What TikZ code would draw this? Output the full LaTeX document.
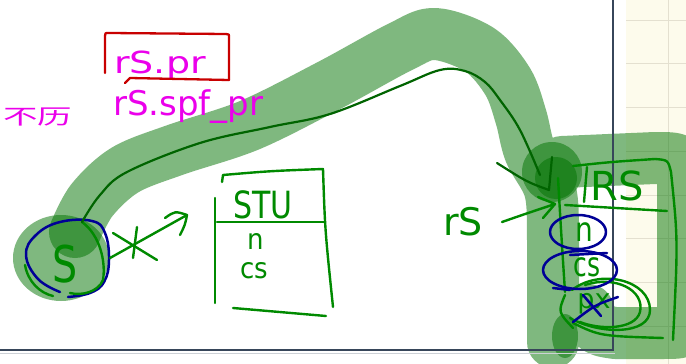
\documentclass[tikz,border=0pt]{standalone}
\usepackage{fontspec}
\setmainfont{DejaVu Sans}
\newfontfamily\cjk{Noto Sans CJK SC}
\usetikzlibrary{arrows.meta}

\definecolor{pengreen}{RGB}{0,138,0}
\definecolor{pendeep}{RGB}{0,100,0}
\definecolor{hlgreen}{RGB}{0,115,0}
\definecolor{inkblue}{RGB}{0,0,150}
\definecolor{magink}{RGB}{235,0,235}
\definecolor{boxred}{RGB}{200,0,0}
\definecolor{cream}{RGB}{253,251,236}
\definecolor{gridcol}{RGB}{228,224,208}
\definecolor{framecol}{RGB}{55,70,90}

\tikzset{
  hlstroke/.style={draw=hlgreen, draw opacity=0.5, line width=52pt, line cap=round, line join=round},
  hldot/.style={fill=hlgreen, fill opacity=0.5},
  penstroke/.style={draw=pengreen, line width=2.4pt, line cap=round, line join=round},
  deepstroke/.style={draw=pendeep, line width=2.2pt, line cap=round, line join=round},
  inkstroke/.style={draw=inkblue, line width=2.5pt, line cap=round, line join=round},
  redstroke/.style={draw=boxred, line width=2.3pt, line cap=round, line join=round},
  hand/.style={text=pengreen, inner sep=0pt},
  magtext/.style={text=magink, inner sep=0pt},
  gridline/.style={draw=gridcol, line width=1pt}
}

\begin{document}
\begin{tikzpicture}[x=1pt,y=-1pt]
\useasboundingbox (0,0) rectangle (686,364);

% paper: white page and the squared margin on the right
\fill[white] (0,0) rectangle (686,364);
\fill[cream] (626,0) rectangle (686,364);
\foreach \gy in {20,63.5,107,151,195,238.5,282,326}
  \draw[gridline] (626,\gy) -- (686,\gy);
\draw[gridline] (668,0) -- (668,364);

% highlighter marks
\fill[hldot] (61,258) ellipse [x radius=48pt, y radius=43pt];
\draw[hlstroke]
  plot[smooth, tension=0.55] coordinates {(75,232) (92,200) (125,170) (175,150) (250,125) (330,85) (400,47) (435,34) (480,50) (508,82) (521,117) (530,152) (550,190) (553,240) (553,342)}
  (562,162) -- (655,158) .. controls (683,158) .. (683,185) -- (683,325)
  .. controls (683,333) .. (660,333) -- (615,333) .. controls (595,330) .. (588,310);
\fill[hldot] (552,172) circle [radius=30pt];
\fill[hldot] (556,178) circle [radius=21pt];
\fill[hldot] (565,336) ellipse [x radius=13pt, y radius=22pt];

% page edge
\draw[framecol, line width=1.8pt] (0,350) -- (613,350) -- (613,0);
\draw[framecol!25, line width=1.2pt] (0,353.5) -- (614.5,353.5);

% magenta notes
\node[magtext, anchor=base west, font=\fontsize{38}{38}\selectfont] (prA) at (114,73) {\scalebox{1}[0.8]{rS.pr}};
\node[magtext, anchor=base west, font=\fontsize{34}{34}\selectfont] (prB) at (113,115) {rS.spf\_pr};
\node[magtext, font=\cjk\fontsize{30}{30}\selectfont] (note) at (38,117) {\scalebox{1.15}[0.7]{不历}};
\draw[redstroke] (105,73) -- (105,36) .. controls (105,33) .. (109,33) -- (226,34)
  .. controls (229,34) .. (229,38) -- (229,80);
\draw[redstroke] (125,83) -- (130,78) -- (229,80);

% S entity
\node[hand, font=\fontsize{44}{44}\selectfont] (sNode) at (65,264) {\scalebox{0.9}[1.15]{S}};
\draw[inkstroke] plot[smooth, tension=0.7] coordinates {(60,292) (38,279) (26,255) (36,235) (60,222) (92,221) (105,233) (109,260) (104,282) (90,293) (68,297)};
\coordinate (sTail) at (82,222);
\draw[penstroke] (sTail) .. controls (100,235) and (106,262) .. (103,280)
  .. controls (98,292) and (82,296) .. (70,293);
\draw[penstroke] (25,265) .. controls (28,282) and (40,293) .. (53,296);

% crossed-out link S -> STU
\coordinate (sOut) at (110,258);
\coordinate (stuIn) at (187,215);
\draw[penstroke] (sOut) -- (stuIn);
\draw[penstroke] (stuIn) ++(-22,3) .. controls +(10,-7) .. (stuIn) .. controls +(-2,10) .. ++(-7,20);
\draw[penstroke] (113,233) -- (157,260);
\draw[penstroke] (137,227) -- (133,258);

% STU table
\node[hand, font=\fontsize{30}{30}\selectfont] (stuTitle) at (263,205) {\scalebox{1}[1.25]{STU}};
\node[hand, font=\fontsize{26}{26}\selectfont] (stuN) at (256,241) {\scalebox{1}[1.1]{n}};
\node[hand, font=\fontsize{26}{26}\selectfont] (stuCs) at (254,271) {\scalebox{1}[1.1]{cs}};
\draw[penstroke] (222,182) -- (223,175) .. controls (270,171) .. (323,169)
  .. controls (325,230) .. (333,307);
\draw[penstroke] (215,198) -- (215,303);
\draw[penstroke] (217,222) -- (325,222);
\draw[penstroke] (233,308) -- (326,316);

% long link from S to RS
\coordinate (rsTip) at (549,190);
\draw[deepstroke] plot[smooth, tension=0.6] coordinates {(sTail) (100,195) (127,172) (200,143) (270,127) (330,114) (400,86) (440,70) (465,71) (485,82) (500,100) (520,130) (540,175)};
\draw[deepstroke] (rsTip) -- ++(3,-33);
\draw[deepstroke] (rsTip) .. controls +(-22,-8) .. ++(-52,-27);

% rS label and its arrow
\node[hand, font=\fontsize{38}{38}\selectfont] (rsLabel) at (463,222) {rS};
\coordinate (rsFrom) at (502,222);
\coordinate (rsTo) at (555,204);
\draw[penstroke] (rsFrom) .. controls (525,214) .. (rsTo);
\draw[penstroke] (rsTo) -- ++(-17,-7);
\draw[penstroke] (rsTo) -- ++(-12,14);

% RS table
\node[hand, font=\fontsize{40}{40}\selectfont] (rsTitle) at (617,186) {RS};
\draw[penstroke] (587,167) -- (584,202);
\draw[penstroke] (573,166) .. controls (610,162) .. (655,159)
  .. controls (668,160) .. (671,172) .. controls (678,240) .. (673,340);
\draw[penstroke] (565,205) -- (667,211);
\draw[penstroke] (558,178) .. controls (561,230) .. (565,292);
\node[hand, font=\fontsize{28}{28}\selectfont] (rsN) at (584,232) {\scalebox{1}[1.2]{n}};
\node[hand, font=\fontsize{25}{25}\selectfont] (rsCs) at (587,267) {\scalebox{1}[1.35]{cs}};
\node[hand, font=\fontsize{27}{27}\selectfont] (rsPx) at (594,304) {px};
\draw[penstroke] (565,295) .. controls (558,312) .. (573,328);
\draw[penstroke] (572,290) .. controls (600,268) and (650,280) .. (650,310)
  .. controls (650,335) and (600,335) .. (570,318);
\draw[penstroke] (585,285) .. controls (615,275) and (645,290) .. (640,312)
  .. controls (635,330) and (600,330) .. (580,322);
\draw[penstroke] (573,323) .. controls (600,336) .. (663,338);

% blue marks on the RS fields
\draw[inkstroke] (578,232) ellipse [x radius=28pt, y radius=17pt];
\draw[inkstroke] (570,255) -- (607,253);
\draw[inkstroke] (580,270) ellipse [x radius=37pt, y radius=19pt];
\draw[inkstroke] (553,288) -- (570,290);
\draw[inkstroke] (583,295) -- (601,316);
\draw[inkstroke] (573,322) .. controls (595,305) .. (618,297);
\end{tikzpicture}
\end{document}
